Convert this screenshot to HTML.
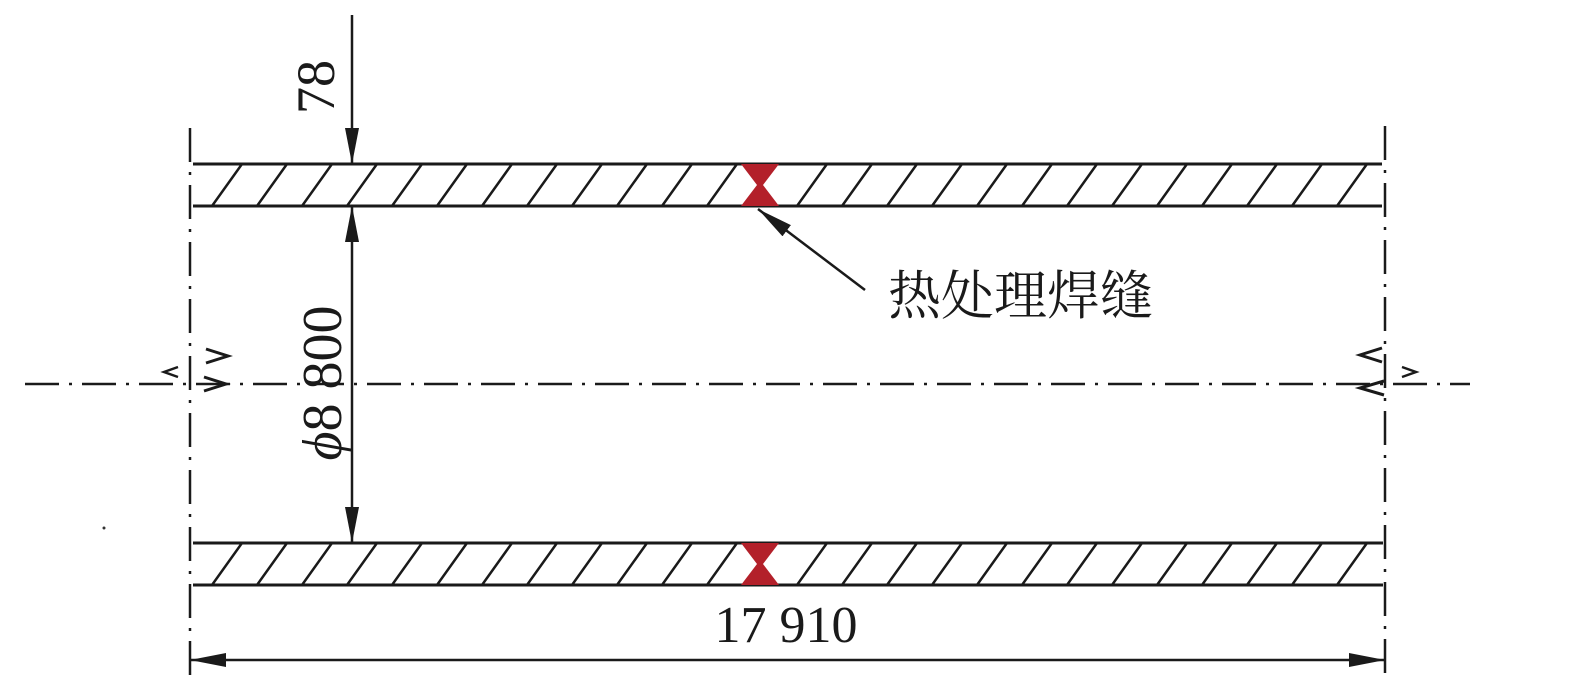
<!DOCTYPE html>
<html><head><meta charset="utf-8"><style>
html,body{margin:0;padding:0;background:#fff;}
svg{display:block;}
</style></head><body>
<svg width="1575" height="689" viewBox="0 0 1575 689" xmlns="http://www.w3.org/2000/svg">
<defs>
<clipPath id="c1"><rect x="193" y="164" width="1190" height="42"/></clipPath>
<clipPath id="c2"><rect x="193" y="543" width="1190" height="42"/></clipPath>
<marker id="ah2" viewBox="0 0 36 14" refX="36" refY="7" markerWidth="36" markerHeight="14" markerUnits="userSpaceOnUse" orient="auto-start-reverse"><path d="M0,0 L36,7 L0,14 z" fill="#1a1a1a"/></marker>
</defs>
<g stroke="#1a1a1a" stroke-width="3" fill="none">
<g clip-path="url(#c1)" stroke-width="2.5">
<path d="M212,206 l30,-42 M257,206 l30,-42 M302,206 l30,-42 M347,206 l30,-42 M392,206 l30,-42 M437,206 l30,-42 M482,206 l30,-42 M527,206 l30,-42 M572,206 l30,-42 M617,206 l30,-42 M662,206 l30,-42 M707,206 l30,-42 M797,206 l30,-42 M842,206 l30,-42 M887,206 l30,-42 M932,206 l30,-42 M977,206 l30,-42 M1022,206 l30,-42 M1067,206 l30,-42 M1112,206 l30,-42 M1157,206 l30,-42 M1202,206 l30,-42 M1247,206 l30,-42 M1292,206 l30,-42 M1337,206 l30,-42"/>
</g>
<g clip-path="url(#c2)" stroke-width="2.5">
<path d="M212,585 l30,-42 M257,585 l30,-42 M302,585 l30,-42 M347,585 l30,-42 M392,585 l30,-42 M437,585 l30,-42 M482,585 l30,-42 M527,585 l30,-42 M572,585 l30,-42 M617,585 l30,-42 M662,585 l30,-42 M707,585 l30,-42 M797,585 l30,-42 M842,585 l30,-42 M887,585 l30,-42 M932,585 l30,-42 M977,585 l30,-42 M1022,585 l30,-42 M1067,585 l30,-42 M1112,585 l30,-42 M1157,585 l30,-42 M1202,585 l30,-42 M1247,585 l30,-42 M1292,585 l30,-42 M1337,585 l30,-42"/>
</g>
<line x1="193" y1="164" x2="1382" y2="164"/>
<line x1="193" y1="206" x2="1382" y2="206"/>
<line x1="193" y1="543" x2="1383" y2="543"/>
<line x1="193" y1="585" x2="1383" y2="585"/>
</g>
<path d="M741,164 L779,164 L763,185 L779,206 L741,206 L757,185 z" fill="#b3202a"/>
<path d="M741,543 L779,543 L763,564 L779,585 L741,585 L757,564 z" fill="#b3202a"/>
<g stroke="#1a1a1a" stroke-width="2.5" fill="none" stroke-dasharray="34,10,3,10">
<line x1="190" y1="128" x2="190" y2="678"/>
<line x1="1385" y1="126" x2="1385" y2="678"/>
<line x1="25" y1="384" x2="1470" y2="384"/>
</g>
<g fill="none" stroke="#1a1a1a" stroke-width="3">
<path d="M206,349 l22,7 l-22,7"/>
<path d="M204,377 l22,7 l-22,7"/>
<path d="M178,367 l-14,5 l14,5" stroke-width="2.5"/>
<path d="M1382,348 l-22,7 l22,7"/>
<path d="M1384,381 l-24,7 l24,7"/>
<path d="M1402,367 l14,5 l-14,5" stroke-width="2.5"/>
</g>
<g stroke="#1a1a1a" stroke-width="2.5" fill="none">
<line x1="352" y1="15" x2="352" y2="164" marker-end="url(#ah2)"/>
<line x1="352" y1="206" x2="352" y2="543" marker-start="url(#ah2)" marker-end="url(#ah2)"/>
<line x1="190" y1="660" x2="1385" y2="660" marker-start="url(#ah2)" marker-end="url(#ah2)"/>
<line x1="865" y1="290" x2="758" y2="209" marker-end="url(#ah2)"/>
</g>
<circle cx="104" cy="528" r="1.5" fill="#333"/>
<g font-family="'Liberation Serif', 'Noto Serif CJK SC', serif" fill="#1a1a1a">
<text x="786" y="642" font-size="52" text-anchor="middle">17 910</text>
<text transform="translate(334,87) rotate(-90)" font-size="54" text-anchor="middle">78</text>
<text transform="translate(341,383) rotate(-90)" font-size="56" text-anchor="middle"><tspan font-style="italic">ϕ</tspan>8 800</text>
<text x="888" y="314" font-size="53">热处理焊缝</text>
</g>
</svg>
</body></html>
